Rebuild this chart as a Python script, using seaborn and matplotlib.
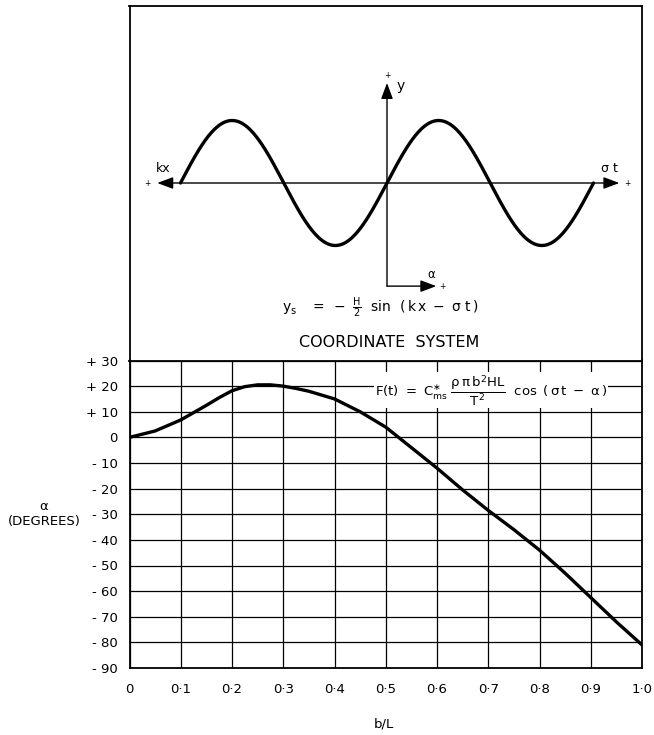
import numpy as np
import pandas as pd
import matplotlib
matplotlib.use("Agg")
import matplotlib.pyplot as plt
import seaborn as sns

# Phase angle of the force versus relative cylinder size
b_over_L = [0.0, 0.05, 0.10, 0.15, 0.175, 0.20, 0.225, 0.25, 0.275, 0.30, 0.325,
            0.35, 0.40, 0.45, 0.50, 0.55, 0.60, 0.65, 0.70, 0.75, 0.80, 0.85,
            0.90, 0.95, 1.00]
alpha_deg = [0.0, 2.5, 6.8, 12.5, 15.5, 18.2, 19.8, 20.5, 20.5, 20.0, 19.1,
             18.0, 15.0, 10.0, 4.0, -4.0, -12.0, -20.5, -28.5, -36.0, -44.0, -53.0,
             -62.5, -72.0, -81.0]

x_ticks = [0.0, 0.1, 0.2, 0.3, 0.4, 0.5, 0.6, 0.7, 0.8, 0.9, 1.0]
x_tick_labels = ["0", "0·1", "0·2", "0·3", "0·4", "0·5", "0·6", "0·7", "0·8", "0·9", "1·0"]
y_ticks = [30, 20, 10, 0, -10, -20, -30, -40, -50, -60, -70, -80, -90]
y_tick_labels = ["+ 30", "+ 20", "+ 10", "0", "- 10", "- 20", "- 30", "- 40",
                 "- 50", "- 60", "- 70", "- 80", "- 90"]

# Schematic wave for the coordinate-system sketch: two wavelengths of y = sin(phase)
wave_cycles = 2
wave_amplitude = 1.0

sns.set_theme(style="white")
plt.rcParams["font.family"] = ["DejaVu Sans"]
plt.rcParams["mathtext.fontset"] = "dejavusans"
plt.rcParams["mathtext.default"] = "regular"

W, H = 654, 735
fig = plt.figure(figsize=(W / 100, H / 100), dpi=100)
fig.patch.set_facecolor("white")

left_px, right_px = 129.5, 642.0
top_px, mid_px, bot_px = 6.0, 360.5, 668.0


def frac_box(x0, x1, y0, y1):
    return [x0 / W, 1 - y1 / H, (x1 - x0) / W, (y1 - y0) / H]


ax = fig.add_axes(frac_box(left_px, right_px, mid_px, bot_px))
top = fig.add_axes(frac_box(left_px, right_px, top_px, mid_px))

# ---------------- lower chart ----------------
df = pd.DataFrame({"b/L": b_over_L, "alpha": alpha_deg})
sns.lineplot(data=df, x="b/L", y="alpha", ax=ax, color="black", lw=2.4, zorder=4)
ax.set_xlim(0, 1)
ax.set_ylim(-90, 30)
ax.set_xticks(x_ticks)
ax.set_xticklabels(x_tick_labels)
ax.set_yticks(y_ticks)
ax.set_yticklabels(y_tick_labels)
ax.tick_params(axis="x", length=0, pad=11, labelsize=9.5, colors="black")
ax.tick_params(axis="y", length=0, pad=8.5, labelsize=9.5, colors="black")
ax.grid(True, color="black", lw=0.9)
ax.set_axisbelow(True)
for s in ax.spines.values():
    s.set_color("black")
    s.set_linewidth(1.3)

ax.set_xlabel("b/L", fontsize=9.5, color="black", va="center")
ax.xaxis.set_label_coords(0.497, -0.182)
ax.set_ylabel("α\n(DEGREES)", rotation=0, fontsize=9.5, color="black",
              ha="center", va="center", linespacing=1.25)
ax.yaxis.set_label_coords(-0.167, 0.50)

ax.text(0.706, 18.4,
        r"$F(t)\ =\ C^{\ast}_{ms}\ \dfrac{\rho\,\pi\,b^{2}HL}{T^{2}}\ \ \cos\ (\,\sigma\, t\ -\ \alpha\,)$",
        ha="center", va="center", fontsize=9.5, color="black", zorder=3,
        bbox=dict(facecolor="white", edgecolor="none", pad=0.5))

# ---------------- coordinate-system sketch ----------------
px_per_rad = 206.5 / (2 * np.pi)
origin_px, axis_py, unit_py = 387.0, 183.0, 62.5
top.set_xlim((left_px - origin_px) / px_per_rad, (right_px - origin_px) / px_per_rad)
top.set_ylim((axis_py - mid_px) / unit_py, (axis_py - top_px) / unit_py)
top.set_xticks([])
top.set_yticks([])
for s in top.spines.values():
    s.set_color("black")
    s.set_linewidth(1.3)

phase = np.linspace(-wave_cycles * np.pi, wave_cycles * np.pi, 400)
sns.lineplot(x=phase, y=wave_amplitude * np.sin(phase), ax=top,
             color="black", lw=2.4, sort=False, estimator=None)

arrow_kw = dict(color="black", lw=1.0, shrinkA=0, shrinkB=0, mutation_scale=12)
# horizontal axis with arrowheads both ways
top.annotate("", xy=(7.07, 0), xytext=(-6.99, 0),
             arrowprops=dict(arrowstyle="<|-|>,head_length=0.8,head_width=0.3", **arrow_kw))
# vertical axis
top.annotate("", xy=(0, 1.60), xytext=(0, -1.65),
             arrowprops=dict(arrowstyle="-|>,head_length=0.8,head_width=0.3", **arrow_kw))
# phase arrow
top.annotate("", xy=(1.50, -1.65), xytext=(0, -1.65),
             arrowprops=dict(arrowstyle="-|>,head_length=0.8,head_width=0.3", **arrow_kw))

for (px, py) in [(-7.28, 0.0), (7.30, 0.0), (0.0, 1.72), (1.70, -1.65)]:
    top.text(px, py, "+", ha="center", va="center", fontsize=5.5, color="black")

top.text(-6.8, 0.13, "kx", ha="center", va="bottom", fontsize=9, color="black")
top.text(6.78, 0.13, "σ t", ha="center", va="bottom", fontsize=9, color="black")
top.text(0.41, 1.55, "y", ha="center", va="center", fontsize=10, color="black")
top.text(1.35, -1.47, "α", ha="center", va="center", fontsize=8.5, color="black")

top.text(-0.21, -2.0,
         r"$y_{s}\ \ \ =\ -\ \frac{H}{2}\ \ sin\ \ (\,k\,x\ -\ \sigma\ t\,)$",
         ha="center", va="center", fontsize=10, color="black")
top.text(0.08, -2.56, "COORDINATE  SYSTEM", ha="center", va="center",
         fontsize=11.5, color="black")

fig.savefig("out.png", dpi=100, facecolor="white")
